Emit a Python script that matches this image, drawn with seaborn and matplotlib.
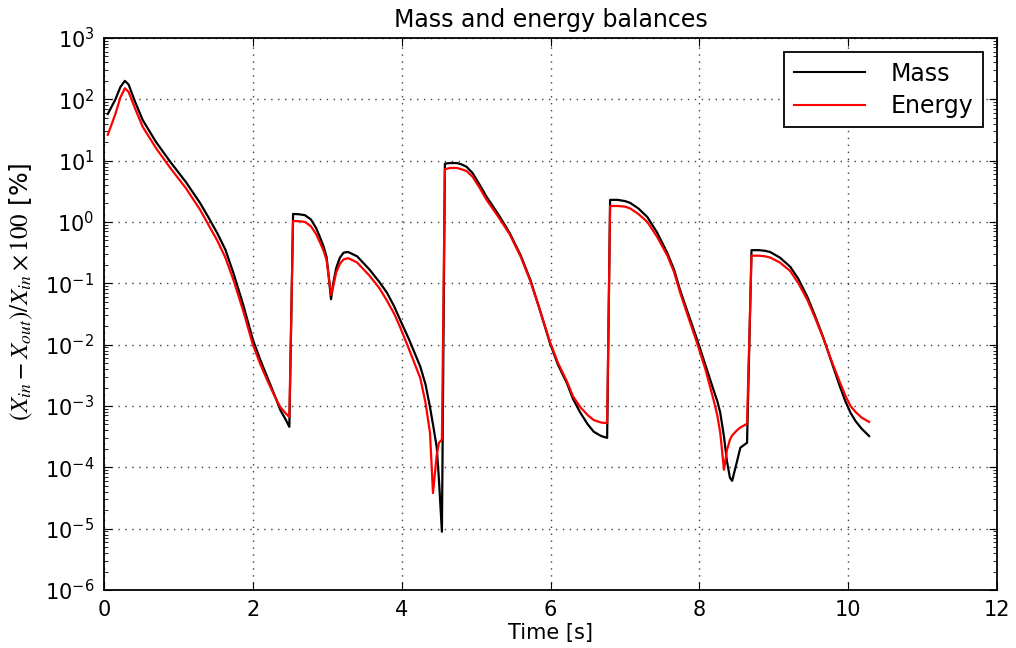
import numpy as np
import pandas as pd
import matplotlib
matplotlib.use("Agg")
import matplotlib.pyplot as plt
import seaborn as sns
from matplotlib.ticker import LogLocator, NullFormatter

# Simulation time [s]
time_s = [0.05, 0.15, 0.22, 0.28, 0.33, 0.42, 0.52, 0.70, 0.89, 1.10, 1.29,
          1.40, 1.52, 1.63, 1.74, 1.87, 2.00, 2.10, 2.20, 2.30, 2.37, 2.44,
          2.49, 2.54, 2.62, 2.70, 2.78, 2.85, 2.90, 2.95, 2.99, 3.02, 3.05,
          3.08, 3.12, 3.17, 3.22, 3.28, 3.40, 3.57, 3.70, 3.80, 3.90, 3.98,
          4.10, 4.25, 4.32, 4.38, 4.42, 4.47, 4.50, 4.54, 4.58, 4.65, 4.74,
          4.80, 4.87, 4.95, 5.05, 5.14, 5.30, 5.45, 5.60, 5.73, 5.86, 5.99,
          6.10, 6.22, 6.30, 6.40, 6.50, 6.58, 6.68, 6.76, 6.80, 6.90, 7.00,
          7.07, 7.18, 7.30, 7.43, 7.57, 7.66, 7.74, 7.85, 7.97, 8.08, 8.19,
          8.24, 8.28, 8.33, 8.37, 8.41, 8.44, 8.51, 8.55, 8.64, 8.70, 8.80,
          8.88, 8.95, 9.08, 9.22, 9.33, 9.45, 9.55, 9.66, 9.78, 9.89, 9.96,
          10.03, 10.10, 10.18, 10.28]

# Relative balance error, as log10 of the percentage
mass_log10 = [1.76, 1.99, 2.20, 2.30, 2.24, 1.95, 1.66, 1.30, 0.98, 0.65, 0.31,
              0.08, -0.18, -0.45, -0.84, -1.35, -1.92, -2.25, -2.55, -2.85, -3.07, -3.22,
              -3.34, 0.13, 0.125, 0.11, 0.04, -0.10, -0.245, -0.40, -0.57, -0.90, -1.26,
              -1.00, -0.75, -0.58, -0.50, -0.49, -0.56, -0.78, -0.98, -1.15, -1.38, -1.60,
              -1.92, -2.36, -2.65, -3.02, -3.30, -3.67, -4.20, -5.05, 0.95, 0.96, 0.96,
              0.94, 0.90, 0.80, 0.60, 0.41, 0.12, -0.18, -0.55, -0.95, -1.45, -1.97,
              -2.33, -2.63, -2.88, -3.11, -3.30, -3.42, -3.49, -3.52, 0.36, 0.36, 0.34,
              0.31, 0.22, 0.08, -0.17, -0.51, -0.78, -1.11, -1.50, -1.92, -2.33, -2.74,
              -2.92, -3.11, -3.50, -3.90, -4.17, -4.22, -3.88, -3.68, -3.60, -0.46, -0.46,
              -0.47, -0.49, -0.58, -0.73, -0.93, -1.22, -1.52, -1.87, -2.30, -2.69, -2.92,
              -3.11, -3.25, -3.37, -3.49]

energy_log10 = [1.42, 1.75, 2.03, 2.18, 2.12, 1.84, 1.55, 1.20, 0.88, 0.55, 0.20,
                -0.04, -0.30, -0.58, -0.95, -1.45, -2.00, -2.32, -2.60, -2.86, -3.02, -3.12,
                -3.18, 0.016, 0.012, 0.00, -0.07, -0.20, -0.33, -0.47, -0.62, -0.90, -1.19,
                -1.05, -0.82, -0.68, -0.61, -0.59, -0.66, -0.88, -1.08, -1.28, -1.50, -1.72,
                -2.08, -2.55, -2.95, -3.44, -4.42, -3.80, -3.60, -3.55, 0.86, 0.88, 0.88,
                0.86, 0.83, 0.74, 0.55, 0.36, 0.08, -0.20, -0.57, -0.97, -1.45, -1.95,
                -2.30, -2.60, -2.84, -3.02, -3.15, -3.23, -3.27, -3.28, 0.26, 0.26, 0.25,
                0.22, 0.13, 0.00, -0.24, -0.55, -0.82, -1.15, -1.55, -1.98, -2.40, -2.90,
                -3.15, -3.44, -4.04, -3.72, -3.55, -3.48, -3.39, -3.35, -3.29, -0.55, -0.55,
                -0.56, -0.58, -0.66, -0.80, -1.00, -1.27, -1.55, -1.88, -2.28, -2.62, -2.83,
                -3.00, -3.10, -3.19, -3.26]

series_names = ["Mass", "Energy"]
series_colors = ["black", "red"]

df = pd.DataFrame({
    "time": time_s * 2,
    "error": np.power(10.0, np.array(mass_log10 + energy_log10)),
    "balance": [series_names[0]] * len(time_s) + [series_names[1]] * len(time_s),
})

plt.rcParams.update({
    "font.family": "DejaVu Sans",
    "xtick.direction": "in",
    "ytick.direction": "in",
    "xtick.top": True,
    "ytick.right": True,
    "xtick.major.size": 6,
    "ytick.major.size": 6,
    "ytick.minor.size": 3,
    "xtick.major.pad": 7,
    "ytick.major.pad": 7,
    "axes.linewidth": 1.3,
})

fig = plt.figure(figsize=(10.16, 6.48), dpi=100)
ax = fig.add_axes([0.1024, 0.0895, 0.879, 0.852])

sns.lineplot(data=df, x="time", y="error", hue="balance",
             palette=dict(zip(series_names, series_colors)),
             estimator=None, sort=False, linewidth=1.6, ax=ax)

ax.set_yscale("log")
ax.set_ylim(1e-6, 1e3)
ax.set_xlim(0, 12)
ax.set_xticks(np.arange(0, 13, 2))
ax.yaxis.set_major_locator(LogLocator(base=10, numticks=15))
ax.yaxis.set_minor_locator(LogLocator(base=10, subs=np.arange(2, 10), numticks=15))
ax.yaxis.set_minor_formatter(NullFormatter())
ax.tick_params(labelsize=15)

ax.grid(True, which="major", color="0.25", linestyle=(0, (1, 4)), linewidth=1.0)

ax.set_title("Mass and energy balances", fontsize=17, pad=8)
ax.set_xlabel("Time [s]", fontsize=15, labelpad=2)
ax.set_ylabel(r"$(X_{in} - X_{out})/X_{in} \times 100$ [%]", fontsize=18,
              math_fontfamily="stix")
ax.yaxis.set_label_coords(-0.077, 0.54)

handles, labels = ax.get_legend_handles_labels()
leg = ax.legend(handles, labels, loc="upper right", fontsize=17, fancybox=False,
                framealpha=1, edgecolor="black", handlelength=3.0,
                handletextpad=1.1, labelspacing=0.35, borderaxespad=0.6)
leg.get_frame().set_linewidth(1.3)
for h in leg.get_lines():
    h.set_linewidth(1.5)

fig.savefig("out.png", dpi=100, facecolor="white")
